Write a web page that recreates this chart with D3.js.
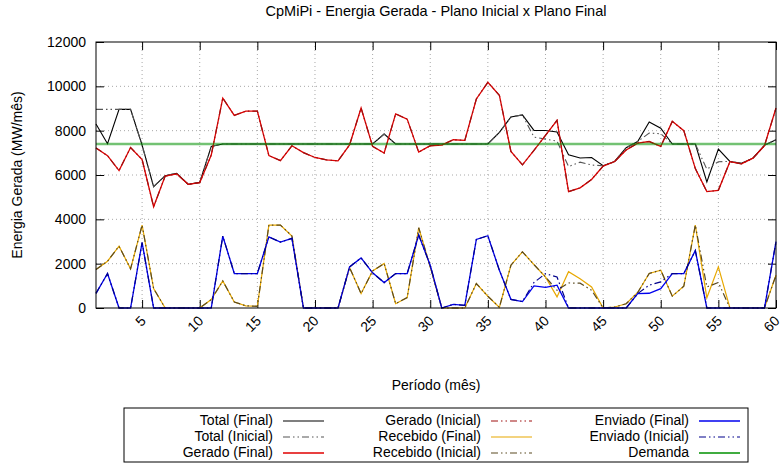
<!DOCTYPE html>
<html><head><meta charset="utf-8">
<script src="https://cdn.jsdelivr.net/npm/d3@7"></script>
<style>
html,body{margin:0;padding:0;background:#fff;}
svg{display:block;font-family:"Liberation Sans",Arial,Helvetica,sans-serif;}
</style></head>
<body>
<svg id="chart" width="783" height="466"></svg>
<script>
const months = d3.range(1, 61);
const totalFinal = [8300,7410,8960,8960,7350,5475,5970,6080,5580,5670,7290,7400,7400,7400,7400,7400,7400,7400,7400,7400,7400,7400,7400,7400,7400,7846,7400,7400,7400,7400,7400,7400,7400,7400,7400,7920,8615,8710,8010,8010,7940,6910,6770,6790,6420,6610,7230,7510,8390,8110,7400,7400,7400,5690,7170,6610,6530,6760,7340,7590];
const totalInicial = [8960,8960,8960,8960,7350,5475,5970,6080,5580,5670,7290,7400,7400,7400,7400,7400,7400,7400,7400,7400,7400,7400,7400,7400,7400,7846,7400,7400,7400,7400,7400,7400,7400,7400,7400,7920,8615,8710,7710,7620,7530,6380,6580,6450,6420,6610,7230,7510,7890,7860,7400,7400,7400,6260,6600,6610,6530,6760,7340,7590];
const geradoFinal = [7220,6870,6200,7240,6700,4570,5950,6050,5580,5650,6900,9470,8690,8880,8880,6880,6650,7320,7010,6790,6680,6640,7360,9020,7290,6990,8760,8520,7030,7320,7350,7590,7560,9430,10180,9590,7060,6460,7110,7790,8470,5250,5420,5800,6400,6610,7130,7440,7510,7290,8420,8000,6290,5250,5310,6600,6500,6760,7320,9020];
const geradoInicial = [7220,6870,6200,7240,6700,4570,5950,6050,5580,5650,6900,9470,8690,8880,8880,6880,6650,7320,7010,6790,6680,6640,7360,9020,7290,6990,8760,8520,7030,7320,7350,7590,7560,9430,10180,9590,7060,6460,7110,7790,8470,5250,5420,5800,6400,6610,7130,7440,7510,7290,8420,8000,6290,5250,5310,6600,6500,6760,7320,9020];
const recebidoFinal = [1735,2110,2790,1765,3740,875,0,0,0,0,380,1220,270,100,75,3740,3740,3250,0,0,0,0,1825,650,1675,2005,195,470,3620,1855,0,0,0,1100,530,30,1930,2535,1960,1400,500,1640,1320,950,0,45,190,700,1560,1705,535,980,3740,460,1855,0,0,0,0,1480];
const recebidoInicial = [1735,2110,2790,1765,3740,875,0,0,0,0,380,1220,270,100,75,3740,3740,3250,0,0,0,0,1825,650,1675,2005,195,470,3620,1855,0,0,0,1100,530,30,1930,2535,1960,1400,800,1130,1120,800,0,45,190,700,1560,1705,535,980,3740,950,1150,0,0,0,0,1480];
const enviadoFinal = [660,1555,0,0,2955,0,0,0,0,0,0,3245,1555,1555,1555,3210,2970,3140,0,0,0,0,1855,2260,1585,1145,1555,1555,3290,1930,0,165,120,3090,3260,1700,390,290,995,930,1030,0,0,0,0,0,0,650,665,875,1555,1555,2590,0,0,0,0,0,0,2990];
const enviadoInicial = [660,1555,0,0,2955,0,0,0,0,0,0,3245,1555,1555,1555,3210,2970,3140,0,0,0,0,1855,2260,1585,1145,1555,1555,3290,1930,0,165,120,3090,3260,1700,390,290,1150,1550,1400,0,0,0,0,0,0,650,1030,1180,1555,1555,2590,0,0,0,0,0,0,2990];
const demanda = months.map(() => 7400);
const xTicks = [5,10,15,20,25,30,35,40,45,50,55,60];
const yTicks = [0,2000,4000,6000,8000,10000,12000];
const seriesNames = ["Total (Final)","Total (Inicial)","Gerado (Final)","Gerado (Inicial)","Recebido (Final)","Recebido (Inicial)","Enviado (Final)","Enviado (Inicial)","Demanda"];
const seriesData = [totalFinal,totalInicial,geradoFinal,geradoInicial,recebidoFinal,recebidoInicial,enviadoFinal,enviadoInicial,demanda];
const seriesColors = ["#000000","#555555","#e00000","#a01010","#e8a800","#5a4a20","#0000ee","#00008b","#009000"];
const dashStyles = [null,"7,3,1.5,3,1.5,3",null,"7,3,1.5,3,1.5,3",null,"7,3,1.5,3,1.5,3",null,"7,3,1.5,3,1.5,3",null];
const widths = [1.1,1.1,1.3,1.2,1.2,1.2,1.3,1.2,2.6];
const opac = [1,1,1,1,1,1,1,1,0.55];

const svg = d3.select("#chart");
const L=96, R=776, T=42, B=308;
const x = d3.scaleLinear().domain([1,60]).range([L,R]);
const y = d3.scaleLinear().domain([0,12000]).range([B,T]);

// grid
const grid = svg.append("g").attr("stroke","#a8a8a8").attr("stroke-width",1).attr("stroke-dasharray","1,3");
xTicks.filter(v=>v<60).forEach(v=>grid.append("line").attr("x1",x(v)).attr("x2",x(v)).attr("y1",T).attr("y2",B));
yTicks.filter(v=>v>0&&v<12000).forEach(v=>grid.append("line").attr("x1",L).attr("x2",R).attr("y1",y(v)).attr("y2",y(v)));

// axes
const fs = "14px";
const gx = svg.append("g").attr("transform",`translate(0,${B})`)
  .call(d3.axisBottom(x).tickValues(xTicks).tickSize(-8).tickFormat(""));
const gxt = svg.append("g").attr("transform",`translate(0,${T})`)
  .call(d3.axisTop(x).tickValues(xTicks).tickSize(-8).tickFormat(""));
const gy = svg.append("g").attr("transform",`translate(${L},0)`)
  .call(d3.axisLeft(y).tickValues(yTicks).tickSize(-8).tickPadding(10).tickFormat(d3.format("d")));
const gyr = svg.append("g").attr("transform",`translate(${R},0)`)
  .call(d3.axisRight(y).tickValues(yTicks).tickSize(-8).tickFormat(""));
[gx,gxt,gy,gyr].forEach(g=>{g.select(".domain").remove();g.selectAll("line").attr("stroke","#000");});
gy.selectAll("text").attr("font-size",fs).attr("fill","#000").attr("font-family","Liberation Sans, Arial, sans-serif");
// rotated x labels
svg.append("g").selectAll("text").data(xTicks).join("text")
  .attr("transform",d=>`translate(${x(d)+2},${B+11}) rotate(-45)`)
  .attr("text-anchor","end").attr("dominant-baseline","middle")
  .attr("font-size",fs).text(d=>d);

// series
const line = d3.line().x((d,i)=>x(months[i])).y(d=>y(d));
seriesData.forEach((data,k)=>{
  svg.append("path").datum(data).attr("d",line).attr("fill","none")
    .attr("stroke",seriesColors[k]).attr("stroke-width",widths[k])
    .attr("stroke-opacity",opac[k])
    .attr("stroke-dasharray",dashStyles[k]);
});

// border
svg.append("rect").attr("x",L).attr("y",T).attr("width",R-L).attr("height",B-T)
  .attr("fill","none").attr("stroke","#000").attr("stroke-width",1);

// titles
svg.append("text").attr("x",(L+R)/2).attr("y",16).attr("text-anchor","middle").attr("font-size","14.5px")
  .text("CpMiPi - Energia Gerada - Plano Inicial x Plano Final");
svg.append("text").attr("transform",`translate(22,${(T+B)/2}) rotate(-90)`).attr("text-anchor","middle")
  .attr("font-size",fs).text("Energia Gerada (MW/mês)");
svg.append("text").attr("x",(L+R)/2).attr("y",390).attr("text-anchor","middle").attr("font-size",fs)
  .text("Período (mês)");

// legend
const lg = svg.append("g");
lg.append("rect").attr("x",124).attr("y",408).attr("width",624).attr("height",54)
  .attr("fill","none").attr("stroke","#000").attr("stroke-width",1);
const colText=[273,481,689], rowY=[421,437,453];
seriesNames.forEach((n,k)=>{
  const c=Math.floor(k/3), r=k%3;
  lg.append("text").attr("x",colText[c]).attr("y",rowY[r]).attr("text-anchor","end")
    .attr("dominant-baseline","middle").attr("font-size",fs).text(n);
  lg.append("line").attr("x1",colText[c]+10).attr("x2",colText[c]+51).attr("y1",rowY[r]).attr("y2",rowY[r])
    .attr("stroke",seriesColors[k]).attr("stroke-width",k===8?1.3:widths[k]).attr("stroke-dasharray",dashStyles[k]);
});
</script>
</body></html>
